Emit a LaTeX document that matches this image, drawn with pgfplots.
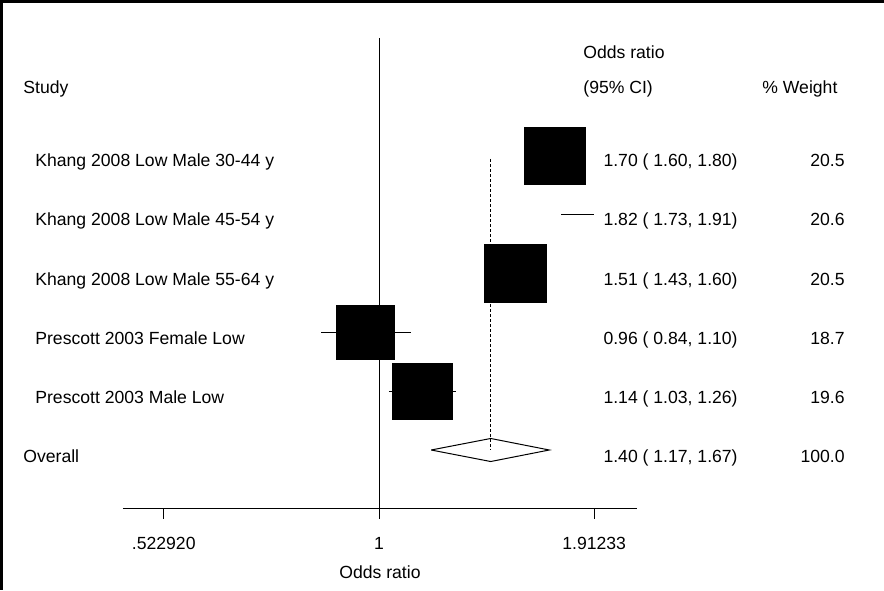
\documentclass[border=0pt]{standalone}
\usepackage{pgfplots}
\pgfplotsset{compat=1.18}
\usepackage{fontspec}
\setmainfont{Liberation Sans}

\begin{document}
\fontsize{8.8pt}{10pt}\selectfont
\begin{tikzpicture}
\useasboundingbox (-61.5pt,-40.6pt) rectangle (380.5pt,254.4pt);
\begin{axis}[
  at={(0,0)}, anchor=south west,
  scale only axis, width=257pt, height=254.4pt,
  xmode=log, xmin=0.4625, xmax=2.175,
  ymin=-6, ymax=2.653,
  axis x line*=bottom, axis y line=none,
  axis line style={black, line width=0.5pt, -},
  xtick={0.52292,1,1.91233},
  xticklabels={.522920,1,1.91233},
  minor xtick={}, xminorticks=false,
  tick align=outside, major tick length=5pt,
  tick style={black, line width=0.5pt},
  xticklabel style={anchor=base, yshift=-15.5pt, font=\fontsize{8.8pt}{10pt}\selectfont},
  xlabel={Odds ratio},
  xlabel style={at={(axis description cs:0.5,0)}, anchor=base, yshift=-34.6pt, font=\fontsize{8.8pt}{10pt}\selectfont},
  clip=false,
]
% confidence intervals
\addplot[black, line width=0.5pt] coordinates {(1.60,0) (1.80,0)};
\addplot[black, line width=0.5pt] coordinates {(1.73,-1) (1.91,-1)};
\addplot[black, line width=0.5pt] coordinates {(1.43,-2) (1.60,-2)};
\addplot[black, line width=0.5pt] coordinates {(0.84,-3) (1.10,-3)};
\addplot[black, line width=0.5pt] coordinates {(1.03,-4) (1.26,-4)};
% weighted boxes
\addplot[only marks, mark=square*, mark size=15.25pt, mark options={yscale=0.93, fill=black, draw=black}] coordinates {(1.70,0)};
\addplot[only marks, mark=square*, mark size=15.5pt, mark options={yscale=0.93, fill=black, draw=black}] coordinates {(1.51,-2)};
\addplot[only marks, mark=square*, mark size=14.5pt, mark options={yscale=0.93, fill=black, draw=black}] coordinates {(0.96,-3)};
\addplot[only marks, mark=square*, mark size=15pt, mark options={yscale=0.93, fill=black, draw=black}] coordinates {(1.14,-4)};
% null line
\addplot[black, line width=0.5pt] coordinates {(1,2.007) (1,-6)};
% overall effect line
\addplot[black, line width=0.5pt, dash pattern=on 1.5pt off 1pt] coordinates {(1.40,-0.05) (1.40,-5)};
% overall diamond
\addplot[black, line width=0.5pt] coordinates {(1.17,-5) (1.40,-4.804) (1.67,-5) (1.40,-5.196) (1.17,-5)};
\end{axis}

\begin{scope}[x=0.5pt,y=-0.5pt,shift={(-61.5pt,254.4pt)}]
\draw[line width=1.5pt] (884,1.5) -- (1.5,1.5) -- (1.5,590);
% headers
\node[anchor=base west, inner sep=0pt] at (583,59) {Odds ratio};
\node[anchor=base west, inner sep=0pt] at (23,94) {Study};
\node[anchor=base west, inner sep=0pt] at (583,94) {(95\% CI)};
\node[anchor=base west, inner sep=0pt] at (762,94) {\% Weight};
% study labels
\node[anchor=base west, inner sep=0pt] at (35,167) {Khang 2008 Low Male 30-44 y};
\node[anchor=base west, inner sep=0pt] at (35,226) {Khang 2008 Low Male 45-54 y};
\node[anchor=base west, inner sep=0pt] at (35,285) {Khang 2008 Low Male 55-64 y};
\node[anchor=base west, inner sep=0pt] at (35,344) {Prescott 2003 Female Low};
\node[anchor=base west, inner sep=0pt] at (35,403) {Prescott 2003 Male Low};
\node[anchor=base west, inner sep=0pt] at (23,462) {Overall};
% OR (95% CI)
\node[anchor=base east, inner sep=0pt] at (738,167) {1.70 ( 1.60, 1.80)};
\node[anchor=base east, inner sep=0pt] at (738,226) {1.82 ( 1.73, 1.91)};
\node[anchor=base east, inner sep=0pt] at (738,285) {1.51 ( 1.43, 1.60)};
\node[anchor=base east, inner sep=0pt] at (738,344) {0.96 ( 0.84, 1.10)};
\node[anchor=base east, inner sep=0pt] at (738,403) {1.14 ( 1.03, 1.26)};
\node[anchor=base east, inner sep=0pt] at (738,462) {1.40 ( 1.17, 1.67)};
% weights
\node[anchor=base east, inner sep=0pt] at (845,167) {20.5};
\node[anchor=base east, inner sep=0pt] at (845,226) {20.6};
\node[anchor=base east, inner sep=0pt] at (845,285) {20.5};
\node[anchor=base east, inner sep=0pt] at (845,344) {18.7};
\node[anchor=base east, inner sep=0pt] at (845,403) {19.6};
\node[anchor=base east, inner sep=0pt] at (845,462) {100.0};
\end{scope}
\end{tikzpicture}
\end{document}
